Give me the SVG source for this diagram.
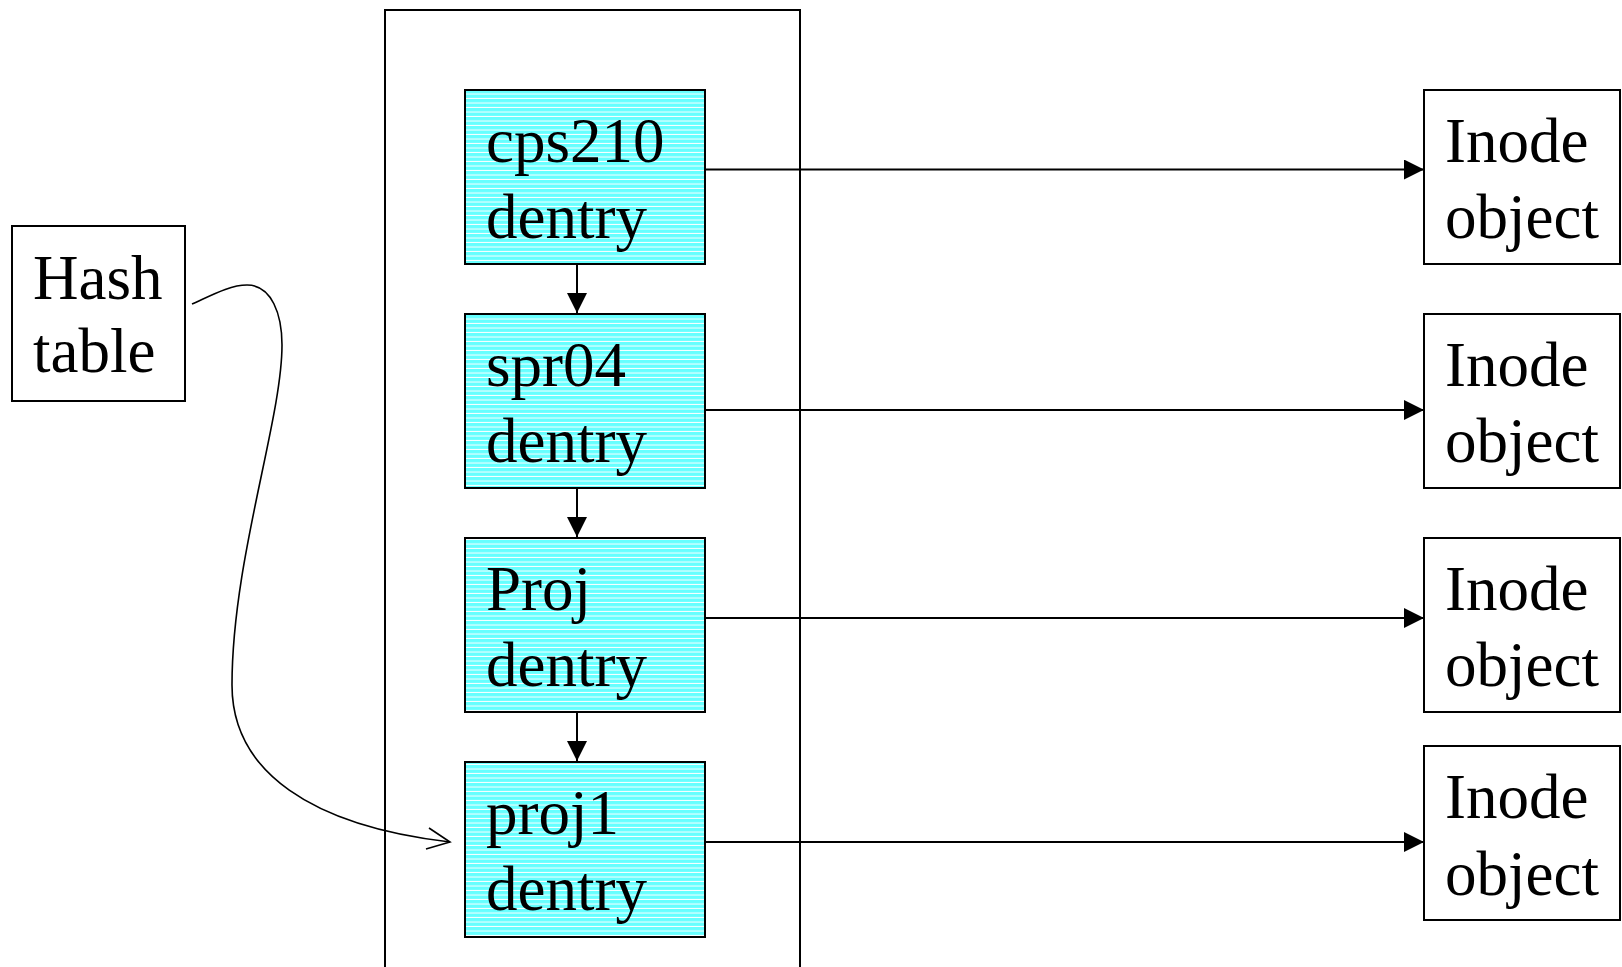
<svg xmlns="http://www.w3.org/2000/svg" width="1622" height="967" viewBox="0 0 1622 967">
  <style>
    .box { fill: #ffffff; stroke: #000000; stroke-width: 2; }
    .dentry { fill: url(#stripes); stroke: #000000; stroke-width: 2; }
    .label { font-family: "Liberation Serif", "Times New Roman", serif; font-size: 63px; fill: #000000; }
    .link { fill: none; stroke: #000000; stroke-width: 2; }
    .curve { fill: none; stroke: #000000; stroke-width: 1.6; }
  </style>
  <defs>
    <!-- cyan fill with thin white horizontal rules -->
    <pattern id="stripes" x="0" y="0" width="8" height="4.5" patternUnits="userSpaceOnUse">
      <rect x="0" y="0" width="8" height="4.5" fill="#66ffff"/>
      <rect x="0" y="3.5" width="8" height="1" fill="#ffffff"/>
    </pattern>
    <marker id="head" markerWidth="20" markerHeight="20" refX="20" refY="10" orient="auto" markerUnits="userSpaceOnUse">
      <path d="M0,0 L20,10 L0,20 Z" fill="#000000"/>
    </marker>
  </defs>

  <rect width="1622" height="967" fill="#ffffff"/>

  <!-- dentry cache frame (open at the bottom) -->
  <g id="cache-frame">
    <path class="link" d="M385,967 L385,10 L800,10 L800,967"/>
  </g>

  <g id="hash-table">
    <rect class="box" x="12" y="226" width="173" height="175"/>
    <text class="label" x="33" y="299">Hash</text>
    <text class="label" x="33" y="372">table</text>
  </g>

  <g id="dentry-cps210">
    <rect class="dentry" x="465" y="90" width="240" height="174"/>
    <text class="label" x="486" y="162">cps210</text>
    <text class="label" x="486" y="238">dentry</text>
  </g>
  <g id="dentry-spr04">
    <rect class="dentry" x="465" y="314" width="240" height="174"/>
    <text class="label" x="486" y="386">spr04</text>
    <text class="label" x="486" y="462">dentry</text>
  </g>
  <g id="dentry-proj">
    <rect class="dentry" x="465" y="538" width="240" height="174"/>
    <text class="label" x="486" y="610">Proj</text>
    <text class="label" x="486" y="686">dentry</text>
  </g>
  <g id="dentry-proj1">
    <rect class="dentry" x="465" y="762" width="240" height="175"/>
    <text class="label" x="486" y="834">proj1</text>
    <text class="label" x="486" y="910">dentry</text>
  </g>

  <g id="inode-1">
    <rect class="box" x="1424" y="90" width="196" height="174"/>
    <text class="label" x="1445" y="162">Inode</text>
    <text class="label" x="1445" y="238">object</text>
  </g>
  <g id="inode-2">
    <rect class="box" x="1424" y="314" width="196" height="174"/>
    <text class="label" x="1445" y="386">Inode</text>
    <text class="label" x="1445" y="462">object</text>
  </g>
  <g id="inode-3">
    <rect class="box" x="1424" y="538" width="196" height="174"/>
    <text class="label" x="1445" y="610">Inode</text>
    <text class="label" x="1445" y="686">object</text>
  </g>
  <g id="inode-4">
    <rect class="box" x="1424" y="746" width="196" height="174"/>
    <text class="label" x="1445" y="818">Inode</text>
    <text class="label" x="1445" y="895">object</text>
  </g>

  <g id="connectors">
    <!-- parent to child dentries -->
    <line class="link" x1="577" y1="264" x2="577" y2="313" marker-end="url(#head)"/>
    <line class="link" x1="577" y1="488" x2="577" y2="537" marker-end="url(#head)"/>
    <line class="link" x1="577" y1="712" x2="577" y2="761" marker-end="url(#head)"/>
    <!-- dentry to inode -->
    <line class="link" x1="705" y1="169.5" x2="1424" y2="169.5" marker-end="url(#head)"/>
    <line class="link" x1="705" y1="410" x2="1424" y2="410" marker-end="url(#head)"/>
    <line class="link" x1="705" y1="618" x2="1424" y2="618" marker-end="url(#head)"/>
    <line class="link" x1="705" y1="842" x2="1424" y2="842" marker-end="url(#head)"/>
    <!-- hash chain into proj1 -->
    <path class="curve" d="M192,304 C212,295 230,285 247,285 C272,285 282,315 282,345 C282,420 232,560 232,685 C232,772 312,826 450,842"/>
    <path class="curve" d="M429,828 L450,842 L426,849"/>
  </g>
</svg>
